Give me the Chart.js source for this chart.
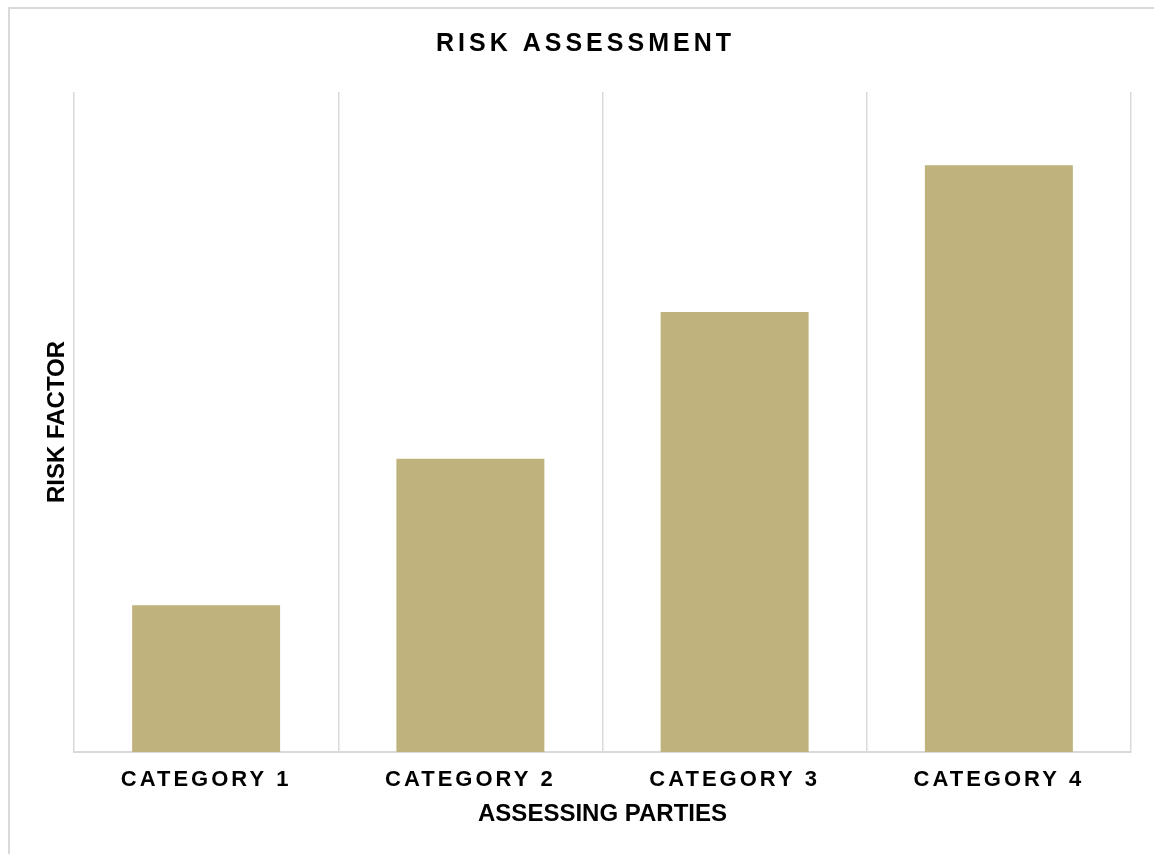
<!DOCTYPE html>
<html>
<head>
<meta charset="utf-8">
<script src="https://cdn.jsdelivr.net/npm/chart.js@4"></script>
<style>
  html, body { margin: 0; padding: 0; background: #fff; overflow: hidden; }
  #wrap { position: relative; width: 1154px; height: 854px; }
  #frame { position: absolute; left: 8px; top: 7px; width: 1200px; height: 900px;
           border-top: 2px solid #d9d9d9; border-left: 2px solid #d9d9d9; }
  #riskChart { position: absolute; left: 0; top: 0; }
</style>
</head>
<body>
<div id="wrap">
  <div id="frame"></div>
  <canvas id="riskChart" width="1154" height="854"></canvas>
</div>
<script>
// dữ liệu biểu đồ
const categories = ["CATEGORY 1", "CATEGORY 2", "CATEGORY 3", "CATEGORY 4"];
const riskValues = [1, 2, 3, 4];
const yMax = 4.5;

const fontFamily = '"Liberation Sans", Arial, sans-serif';

// canvas letterSpacing cho nhãn trục x và tiêu đề
const spacingPlugin = {
    id: 'spacing',
    afterUpdate(chart) {
        const x = chart.scales.x;
        if (x && !x._spaced) {
            const orig = x.drawLabels;
            x.drawLabels = function (area) {
                this.ctx.save();
                this.ctx.letterSpacing = '3px';
                orig.call(this, area);
                this.ctx.restore();
            };
            x._spaced = true;
        }
        const t = chart.titleBlock;
        if (t && !t._spaced) {
            const origT = t.draw;
            t.draw = function () {
                this.ctx.save();
                this.ctx.letterSpacing = '4px';
                origT.apply(this, arguments);
                this.ctx.restore();
            };
            t._spaced = true;
        }
    }
};

let ctx = document.getElementById("riskChart").getContext("2d");

const riskChart = new Chart(ctx, {
    type: 'bar',
    data: {
        labels: categories,
        datasets: [{
            label: "Risk factor",
            data: riskValues,
            backgroundColor: "#BFB27D",
            borderWidth: 0,
            categoryPercentage: 1,
            barPercentage: 0.56
        }]
    },
    plugins: [spacingPlugin],
    options: {
        responsive: false,
        animation: false,
        layout: {
            padding: { left: 40, right: 23, top: 0, bottom: 25 }
        },
        plugins: {
            legend: { display: false },
            tooltip: { enabled: false },
            title: {
                display: true,
                text: "RISK ASSESSMENT",
                color: "#000",
                font: { family: fontFamily, size: 25, weight: 'bold' },
                padding: { top: 29, bottom: 33 }
            }
        },
        scales: {
            x: {
                afterFit(scale) { scale.height = 77; },
                grid: {
                    offset: true,
                    color: "#d9d9d9",
                    lineWidth: 1.5,
                    drawTicks: false
                },
                border: { color: "#d9d9d9", width: 2 },
                ticks: {
                    color: "#000",
                    padding: 15,
                    font: { family: fontFamily, size: 22, weight: 'bold' }
                },
                title: {
                    display: true,
                    text: "ASSESSING PARTIES",
                    color: "#000",
                    padding: 0,
                    font: { family: fontFamily, size: 24, weight: 'bold' }
                }
            },
            y: {
                min: 0,
                max: yMax,
                afterFit(scale) { scale.width = 34; },
                grid: { display: false },
                border: { display: false },
                ticks: { display: false },
                title: {
                    display: true,
                    text: "RISK FACTOR",
                    color: "#000",
                    padding: { top: 3, bottom: 0 },
                    font: { family: fontFamily, size: 24, weight: 'bold' }
                }
            }
        }
    }
});
riskChart.draw();
</script>
</body>
</html>
